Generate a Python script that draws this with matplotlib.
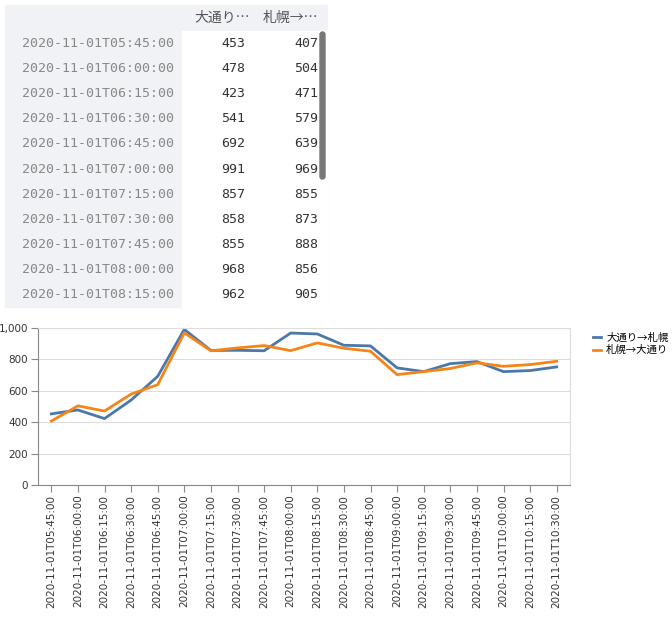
import matplotlib
matplotlib.use('Agg')
import matplotlib.pyplot as plt
from matplotlib.patches import Rectangle, FancyBboxPatch

times = ['05:45', '06:00', '06:15', '06:30', '06:45', '07:00', '07:15', '07:30', '07:45',
         '08:00', '08:15', '08:30', '08:45', '09:00', '09:15', '09:30', '09:45', '10:00',
         '10:15', '10:30']
labels = ['2020-11-01T' + t + ':00' for t in times]
odori_to_sapporo = [453, 478, 423, 541, 692, 991, 857, 858, 855, 968, 962,
                    890, 886, 746, 722, 773, 786, 722, 729, 752]
sapporo_to_odori = [407, 504, 471, 579, 639, 969, 855, 873, 888, 856, 905,
                    871, 852, 703, 722, 742, 778, 756, 767, 788]
series_names = ['大通り→札幌', '札幌→大通り']
header_names = ['大通り…', '札幌→…']
n_table_rows = 11

cjk = 'Noto Sans CJK JP'
mono = 'DejaVu Sans Mono'
W, H = 672, 620
fig = plt.figure(figsize=(W / 100, H / 100), dpi=100)

# --- table (pixel coordinates, y downwards) ---
tab = fig.add_axes([0, 0, 1, 1])
tab.set_xlim(0, W)
tab.set_ylim(H, 0)
tab.axis('off')
left, right, top = 5, 327, 5
idx_right = 182
header_h = 26
row_h = 25.1
body_top = top + header_h
bottom = body_top + n_table_rows * row_h
tab.add_patch(Rectangle((left, top), right - left, bottom - top, color='#f0f2f6', zorder=0))
tab.add_patch(Rectangle((idx_right, body_top), right - idx_right, bottom - body_top,
                        color='white', zorder=1))
tab.text(250, top + header_h / 2, header_names[0], ha='right', va='center',
         fontfamily=cjk, fontsize=10, color='#555555')
tab.text(318, top + header_h / 2, header_names[1], ha='right', va='center',
         fontfamily=cjk, fontsize=10, color='#555555')
for i in range(n_table_rows):
    yc = body_top + (i + 0.5) * row_h
    tab.text(174, yc, labels[i], ha='right', va='center', fontfamily=mono,
             fontsize=9.5, color='#888888')
    tab.text(245, yc, str(odori_to_sapporo[i]), ha='right', va='center',
             fontfamily=mono, fontsize=9.5, color='#333333')
    tab.text(318, yc, str(sapporo_to_odori[i]), ha='right', va='center',
             fontfamily=mono, fontsize=9.5, color='#333333')
tab.add_patch(FancyBboxPatch((320, 32), 5, 147, boxstyle='round,pad=0,rounding_size=2.5',
                             color='#777777', zorder=3))

# --- line chart ---
ax = fig.add_axes([38 / W, 1 - 485 / H, (570 - 38) / W, (485 - 328) / H])
x = range(len(labels))
ax.plot(x, odori_to_sapporo, color='#4c78a8', lw=2, label=series_names[0])
ax.plot(x, sapporo_to_odori, color='#f58518', lw=2, label=series_names[1])
ax.set_ylim(0, 1000)
ax.set_xlim(-0.5, len(labels) - 0.5)
ax.set_yticks(range(0, 1001, 200))
ax.set_yticklabels([f'{v:,}' for v in range(0, 1001, 200)])
ax.set_xticks(list(x))
ax.set_xticklabels(labels, rotation=90, fontfamily='DejaVu Sans')
ax.tick_params(labelsize=7.5, colors='#333333', length=5, color='#888888', pad=2)
ax.grid(axis='y', color='#dddddd', lw=0.8)
ax.set_axisbelow(True)
for s in ['top', 'right']:
    ax.spines[s].set_color('#dddddd')
for s in ['left', 'bottom']:
    ax.spines[s].set_color('#888888')
leg = ax.legend(loc='upper left', bbox_to_anchor=(1.025, 1.03), frameon=False,
                prop={'family': cjk, 'size': 7.5}, handlelength=0.8, handletextpad=0.5,
                labelspacing=0.2)

fig.savefig('out.png', dpi=100)
